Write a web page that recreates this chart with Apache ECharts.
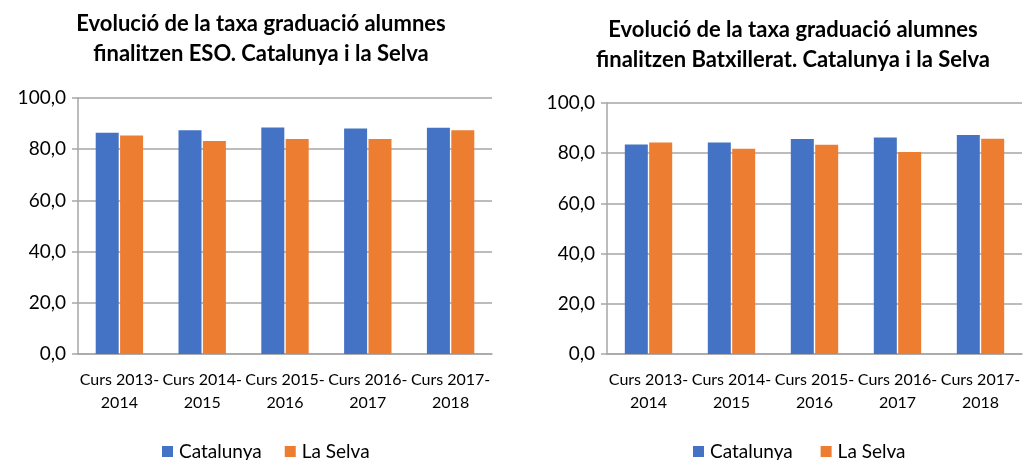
<!DOCTYPE html>
<html>
<head>
<meta charset="utf-8">
<script src="https://cdn.jsdelivr.net/npm/echarts@6/dist/echarts.min.js"></script>
<style>
  html, body { margin: 0; padding: 0; background: #fff; }
  #chart { width: 1026px; height: 460px; }
</style>
</head>
<body>
<div id="chart"></div>
<script>
const cursos = ['Curs 2013-\n2014', 'Curs 2014-\n2015', 'Curs 2015-\n2016', 'Curs 2016-\n2017', 'Curs 2017-\n2018']
const esoCatalunya = [86.4, 87.4, 88.5, 88.1, 88.4]
const esoSelva = [85.4, 83.2, 84.0, 84.0, 87.4]
const batxCatalunya = [83.5, 84.3, 85.7, 86.3, 87.3]
const batxSelva = [84.3, 81.8, 83.4, 80.5, 85.8]

const FONT = 'Lato'
const BLUE = '#4472C4'
const ORANGE = '#ED7D31'
const GRID = '#A6A6A6'

const chart = echarts.init(document.getElementById('chart'))

function fmt(v) {
  return v.toFixed(1).replace('.', ',')
}

function xAxis(idx) {
  return {
    type: 'category',
    gridIndex: idx,
    data: cursos,
    axisLine: { lineStyle: { color: GRID, width: 1.5 } },
    axisTick: { show: false },
    axisLabel: {
      interval: 0,
      color: '#000',
      fontFamily: FONT,
      fontSize: 16,
      lineHeight: 23,
      margin: 14,
    },
  }
}

function yAxis(idx) {
  return {
    type: 'value',
    gridIndex: idx,
    min: 0,
    max: 100,
    interval: 20,
    axisLine: { show: true, lineStyle: { color: GRID, width: 1.5 } },
    axisTick: { show: true, length: 6, lineStyle: { color: GRID, width: 1.5 } },
    splitLine: { lineStyle: { color: GRID, width: 1.5 } },
    axisLabel: {
      color: '#000',
      fontFamily: FONT,
      fontSize: 19,
      margin: 12,
      formatter: fmt,
    },
  }
}

function bar(name, data, color, idx) {
  return {
    name: name,
    type: 'bar',
    xAxisIndex: idx,
    yAxisIndex: idx,
    data: data,
    barWidth: 23,
    barGap: '6%',
    itemStyle: { color: color },
  }
}

function legend(names, left) {
  return {
    data: names,
    left: left,
    top: 437,
    itemWidth: 11,
    itemHeight: 11,
    itemGap: 23,
    icon: 'rect',
    textStyle: { fontFamily: FONT, fontSize: 19, color: '#000', padding: [0, 0, 0, 1] },
  }
}

const option = {
  backgroundColor: '#fff',
  animation: false,
  title: [
    {
      text: 'Evolució de la taxa graduació alumnes\nfinalitzen ESO. Catalunya i la Selva',
      left: 256,
      top: 4,
      textAlign: 'center',
      textStyle: { fontFamily: FONT, fontWeight: 'bold', fontSize: 22, lineHeight: 30, color: '#000' },
    },
    {
      text: 'Evolució de la taxa graduació alumnes\nfinalitzen Batxillerat. Catalunya i la Selva',
      left: 788,
      top: 10,
      textAlign: 'center',
      textStyle: { fontFamily: FONT, fontWeight: 'bold', fontSize: 22, lineHeight: 30, color: '#000' },
    },
  ],
  legend: [
    legend(['Catalunya', 'La Selva'], 157),
    legend(['Catalunya ', 'La Selva '], 688),
  ],
  grid: [
    { left: 78, right: 534, top: 98, bottom: 106 },
    { left: 607, right: 4, top: 103, bottom: 106 },
  ],
  xAxis: [xAxis(0), xAxis(1)],
  yAxis: [yAxis(0), yAxis(1)],
  series: [
    bar('Catalunya', esoCatalunya, BLUE, 0),
    bar('La Selva', esoSelva, ORANGE, 0),
    bar('Catalunya ', batxCatalunya, BLUE, 1),
    bar('La Selva ', batxSelva, ORANGE, 1),
  ],
}

chart.setOption(option)
</script>
</body>
</html>
